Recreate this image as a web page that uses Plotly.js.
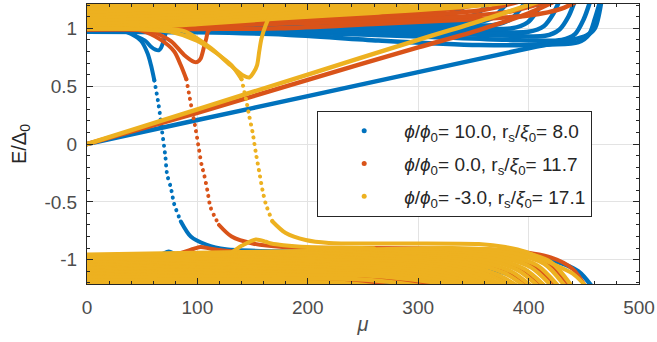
<!DOCTYPE html>
<html><head><meta charset="utf-8">
<script src="https://cdn.plot.ly/plotly-3.0.1.min.js"></script>
<style>
html,body{margin:0;padding:0;background:#fff;}
#chart{width:657px;height:342px;}
.js-line{stroke-linecap:round;stroke-linejoin:round;}
.legend .legendpoints{transform:translate(3px,0px);}
</style></head><body><div id="chart"></div>
<script>
// ---------- tick labels ----------
const xTickVals = [0, 100, 200, 300, 400, 500];
const yTickVals = [-1, -0.5, 0, 0.5, 1];
const yTickText = ['-1', '-0.5', '0', '0.5', '1'];

// ---------- legend labels ----------
const seriesNames = [
  '<i>ϕ</i>/<i>ϕ</i><sub>0</sub>= 10.0, r<sub>s</sub>/<i>ξ</i><sub>0</sub>= 8.0',
  '<i>ϕ</i>/<i>ϕ</i><sub>0</sub>= 0.0, r<sub>s</sub>/<i>ξ</i><sub>0</sub>= 11.7',
  '<i>ϕ</i>/<i>ϕ</i><sub>0</sub>= -3.0, r<sub>s</sub>/<i>ξ</i><sub>0</sub>= 17.1'
];

// ================= BLUE (phi=10, rs=8) =================
const blueUpperMu = [
  [0,100,180,264,355,420,445,455,460,465],
  [0,100,200,300,380,430,442,450,456],
  [0,100,200,300,370,415,428,436,442],
  [0,200,300,360,400,414,422,428],
  [0,200,300,385,399,407,413],
  [0,200,300,370,384,392,398],
  [0,200,300,355,369,377,383],
  [0,200,300,340,354,362,368],
  [0,200,300,325,339,350],
  [0,200,290,310,325],
  [0,200,260,280],
  [0,150,200]
];
const blueUpperE = [
  [0.97,0.965,0.945,0.895,0.855,0.86,0.88,0.95,1.08,1.24],
  [0.98,0.975,0.96,0.93,0.9,0.9,0.95,1.08,1.24],
  [0.995,0.99,0.98,0.96,0.94,0.935,0.99,1.1,1.24],
  [1.01,1.0,0.985,0.97,0.97,1.02,1.12,1.24],
  [1.025,1.02,1.01,1.0,1.05,1.14,1.24],
  [1.04,1.035,1.03,1.03,1.08,1.16,1.24],
  [1.06,1.055,1.05,1.055,1.1,1.18,1.24],
  [1.08,1.075,1.07,1.08,1.13,1.2,1.24],
  [1.1,1.095,1.095,1.11,1.17,1.24],
  [1.12,1.12,1.13,1.18,1.24],
  [1.15,1.15,1.2,1.24],
  [1.18,1.19,1.24]
];
const blueLowerMu = [
  [0,150,300,380,420,445,458],
  [0,200,330,380,400],
  [0,200,330,360]
];
const blueLowerE = [
  [-0.965,-0.955,-0.95,-0.96,-1.0,-1.1,-1.24],
  [-1.05,-1.03,-1.05,-1.12,-1.24],
  [-1.205,-1.2,-1.21,-1.24]
];
const blueLinMu = [0,100,200,300,400,452,460,466];
const blueLinE  = [0,0.207,0.414,0.621,0.828,0.935,1.0,1.24];
const blueDipMu = [0,20,36,45,53,58,62,65,67,70,72,80,110];
const blueDipE  = [0.985,0.985,0.975,0.93,0.89,0.84,0.815,0.81,0.83,0.91,0.97,0.99,0.985];
const blueDescMu = [0,20,31,40,49,55,58,61,65,68,71,72.5,76,79,85,94,108,126,200,300];
const blueDescE  = [1.0,0.995,0.98,0.95,0.89,0.78,0.68,0.55,0.33,0.11,-0.11,-0.26,-0.38,-0.52,-0.67,-0.80,-0.87,-0.91,-0.93,-0.95];
const blueBumpMu = [50,66,74,82,100];
const blueBumpE  = [-0.97,-0.96,-0.93,-0.96,-0.97];

// ================= ORANGE (phi=0, rs=11.7) =================
const orangeUpperMu = [
  [0,100,175,264,355,400,430,445],
  [0,100,200,300,380,420],
  [0,100,200,300,360,395],
  [0,100,200,300,340,370],
  [0,100,200,300,340],
  [0,100,200,260,300],
  [0,100,200,250],
  [0,100,180,210],
  [0,100,150]
];
const orangeUpperE = [
  [0.99,0.995,1.0,1.04,1.08,1.11,1.17,1.24],
  [1.015,1.025,1.045,1.08,1.14,1.24],
  [1.04,1.05,1.075,1.11,1.16,1.24],
  [1.065,1.075,1.1,1.14,1.18,1.24],
  [1.09,1.1,1.13,1.18,1.24],
  [1.115,1.125,1.16,1.2,1.24],
  [1.14,1.155,1.2,1.24],
  [1.165,1.18,1.22,1.24],
  [1.19,1.21,1.24]
];
const orangeLowerMu = [
  [0,200,330,392,420,438],
  [0,200,320,380,408,426],
  [0,200,310,368,396,414],
  [0,200,300,356,384,402],
  [0,200,290,344,372,390],
  [0,200,280,332,360,378],
  [0,200,270,320,348,366],
  [0,200,260,308,336,354],
  [0,200,250,296,322],
  [0,150,240,280]
];
const orangeLowerE = [
  [-0.97,-0.94,-0.915,-0.95,-1.04,-1.24],
  [-0.995,-0.965,-0.94,-0.975,-1.07,-1.24],
  [-1.02,-0.99,-0.97,-1.005,-1.09,-1.24],
  [-1.045,-1.015,-1.0,-1.035,-1.12,-1.24],
  [-1.07,-1.045,-1.03,-1.065,-1.14,-1.24],
  [-1.095,-1.07,-1.06,-1.095,-1.16,-1.24],
  [-1.12,-1.1,-1.09,-1.125,-1.18,-1.24],
  [-1.145,-1.125,-1.12,-1.155,-1.2,-1.24],
  [-1.17,-1.155,-1.15,-1.19,-1.24],
  [-1.195,-1.185,-1.185,-1.24]
];
const orangeLinMu = [0,100,200,300,355,400,425];
const orangeLinE  = [0,0.27,0.555,0.835,0.985,1.13,1.24];
const orangeDipMu = [0,40,58,76,88,97,100,103,106,108,110,115,140];
const orangeDipE  = [0.99,0.99,0.975,0.89,0.77,0.71,0.71,0.74,0.84,0.91,0.98,1.0,1.01];
const orangeDescMu = [0,30,49,67,79,85,90,95,98,101,104,106,109,112,119.6,131,150,177,300,380,420,440,452];
const orangeDescE  = [1.0,0.995,0.98,0.90,0.80,0.68,0.56,0.30,0.15,-0.02,-0.19,-0.26,-0.40,-0.55,-0.70,-0.80,-0.86,-0.89,-0.90,-0.92,-0.98,-1.08,-1.24];
const orangeBumpMu = [70,82,97,103,112,133,160];
const orangeBumpE  = [-0.955,-0.95,-0.905,-0.89,-0.905,-0.93,-0.945];

// ================= YELLOW (phi=-3, rs=17.1) =================
const yellowUpperMu = [
  [0,50,100,175,264,355,390],
  [0,100,175,264,330,360],
  [0,100,175,250,310],
  [0,100,175,230,270],
  [0,100,175,240],
  [0,100,160,210],
  [0,100,180],
  [0,80,150],
  [0,60,120]
];
const yellowUpperE = [
  [1.0,1.01,1.04,1.09,1.14,1.2,1.24],
  [1.025,1.06,1.11,1.165,1.21,1.24],
  [1.05,1.085,1.135,1.19,1.24],
  [1.075,1.11,1.16,1.2,1.24],
  [1.1,1.135,1.185,1.24],
  [1.125,1.16,1.2,1.24],
  [1.15,1.185,1.24],
  [1.175,1.2,1.24],
  [1.2,1.22,1.24]
];
const yellowLowerMu = [
  [0,200,330,390,420,440],
  [0,200,325,384,414,434],
  [0,200,320,378,408,428],
  [0,200,315,372,402,422],
  [0,200,310,366,396,416],
  [0,200,305,360,390,410],
  [0,200,300,354,384,404],
  [0,200,295,348,378,398],
  [0,200,290,342,372,392],
  [0,200,285,336,366,386],
  [0,200,280,330,360,380],
  [0,200,275,324,354,374],
  [0,200,270,318,348,368],
  [0,200,265,312,342,362],
  [0,200,260,306,336,356],
  [0,200,255,300,330,350],
  [0,200,250,294,324,344],
  [0,150,240,282,312],
  [0,150,230,270]
];
const yellowLowerE = [
  [-0.955,-0.925,-0.9,-0.93,-1.02,-1.24],
  [-0.968,-0.938,-0.912,-0.945,-1.035,-1.24],
  [-0.98,-0.95,-0.925,-0.96,-1.05,-1.24],
  [-0.993,-0.963,-0.94,-0.975,-1.065,-1.24],
  [-1.005,-0.975,-0.955,-0.99,-1.08,-1.24],
  [-1.018,-0.988,-0.97,-1.005,-1.09,-1.24],
  [-1.03,-1.0,-0.985,-1.02,-1.1,-1.24],
  [-1.043,-1.015,-1.0,-1.035,-1.115,-1.24],
  [-1.055,-1.03,-1.015,-1.05,-1.13,-1.24],
  [-1.068,-1.043,-1.03,-1.065,-1.14,-1.24],
  [-1.08,-1.055,-1.045,-1.08,-1.15,-1.24],
  [-1.093,-1.07,-1.06,-1.095,-1.16,-1.24],
  [-1.105,-1.085,-1.075,-1.11,-1.17,-1.24],
  [-1.118,-1.098,-1.09,-1.125,-1.18,-1.24],
  [-1.13,-1.11,-1.105,-1.14,-1.19,-1.24],
  [-1.143,-1.125,-1.12,-1.155,-1.2,-1.24],
  [-1.155,-1.14,-1.135,-1.17,-1.21,-1.24],
  [-1.18,-1.17,-1.165,-1.2,-1.24],
  [-1.205,-1.2,-1.2,-1.24]
];
const yellowLinMu = [0,100,200,300,355,409];
const yellowLinE  = [0,0.3,0.6,0.9,1.06,1.23];
const yellowDipMu = [0,70,88,112,130,142,147,151,154,156,158,162,166,175,190];
const yellowDipE  = [0.995,0.99,0.975,0.83,0.68,0.59,0.575,0.62,0.68,0.8,0.91,1.03,1.11,1.18,1.24];
const yellowDescMu = [0,50,76,100,118,131,140,144,147,150,153,156,159,162,168,180,198,219,264,355,379,397,418,440,453];
const yellowDescE  = [1.0,0.99,0.97,0.89,0.78,0.68,0.56,0.39,0.24,0.10,-0.08,-0.24,-0.40,-0.52,-0.67,-0.77,-0.83,-0.855,-0.86,-0.865,-0.89,-0.93,-1.02,-1.12,-1.24];
const yellowBumpMu = [100,127,140,153,162,167,178,200,260];
const yellowBumpE  = [-0.95,-0.955,-0.88,-0.825,-0.845,-0.86,-0.875,-0.89,-0.9];

// ---------- styling ----------
const COLORS = ['#0072BD', '#D95319', '#EDB120'];
const BAND_W = [4.5, 4.5, 4.2];
const FONT = 'Liberation Sans, Arial, Helvetica, sans-serif';
const W = 4;
const traces = [];

function line(mu, e, color, width, dash) {
  traces.push({
    x: mu, y: e, type: 'scatter', mode: 'lines',
    line: {color: color, width: width, shape: 'spline', smoothing: 0.8, dash: dash || 'solid'},
    showlegend: false, hoverinfo: 'skip'
  });
}
function desc(mu, e, color) {
  const a = e.findIndex(v => v < 0.62);
  const b = e.findIndex(v => v < -0.62);
  line(mu.slice(0, a + 1), e.slice(0, a + 1), color, W);
  line(mu.slice(a, b + 1), e.slice(a, b + 1), color, W, '0.1px,6.5px');
  line(mu.slice(b), e.slice(b), color, W);
}
function group(idx, upMu, upE, loMu, loE, linMu, linE, dipMu, dipE, dMu, dE, bMu, bE) {
  const c = COLORS[idx];
  traces.push({x: [null], y: [null], type: 'scatter', mode: 'markers',
    marker: {color: c, size: 5}, name: seriesNames[idx],
    legendgroup: 'g' + idx, showlegend: true, hoverinfo: 'skip'});
  upMu.forEach((m, i) => line(m, upE[i], c, idx === 2 ? 5.2 : BAND_W[idx]));
  loMu.forEach((m, i) => line(m, loE[i], c, BAND_W[idx]));
  line(bMu, bE, c, W);
  line(dipMu, dipE, c, W);
  desc(dMu, dE, c);
  line(linMu, linE, c, W + 0.5);
}
group(0, blueUpperMu, blueUpperE, blueLowerMu, blueLowerE, blueLinMu, blueLinE, blueDipMu, blueDipE, blueDescMu, blueDescE, blueBumpMu, blueBumpE);
group(1, orangeUpperMu, orangeUpperE, orangeLowerMu, orangeLowerE, orangeLinMu, orangeLinE, orangeDipMu, orangeDipE, orangeDescMu, orangeDescE, orangeBumpMu, orangeBumpE);
group(2, yellowUpperMu, yellowUpperE, yellowLowerMu, yellowLowerE, yellowLinMu, yellowLinE, yellowDipMu, yellowDipE, yellowDescMu, yellowDescE, yellowBumpMu, yellowBumpE);

const axisCommon = {
  ticks: 'inside', ticklen: 6, tickwidth: 1, tickcolor: '#262626',
  showline: true, linecolor: '#262626', linewidth: 1, mirror: 'ticks',
  showgrid: true, gridcolor: '#e3e3e3', gridwidth: 1, zeroline: false,
  tickfont: {family: FONT, size: 19, color: '#4d4d4d'}
};
const layout = {
  width: 657, height: 342,
  margin: {l: 87, r: 18, t: 4, b: 58},
  paper_bgcolor: '#ffffff', plot_bgcolor: '#ffffff',
  xaxis: Object.assign({}, axisCommon, {
    range: [0, 500], tickmode: 'array', tickvals: xTickVals,
    ticklabelstandoff: 6,
    minor: {ticks: 'inside', ticklen: 3, dtick: 20, tick0: 0, tickcolor: '#262626', showgrid: false},
    title: {text: '<i>μ</i>', font: {family: FONT, size: 20, color: '#4d4d4d'}, standoff: 0}
  }),
  yaxis: Object.assign({}, axisCommon, {
    range: [-1.21, 1.21], tickmode: 'array', tickvals: yTickVals, ticktext: yTickText,
    ticklabelstandoff: 5,
    minor: {ticks: 'inside', ticklen: 3, dtick: 0.1, tick0: 0, tickcolor: '#262626', showgrid: false},
    title: {text: 'E/Δ<sub>0</sub>', font: {family: FONT, size: 20, color: '#262626'}, standoff: 12}
  }),
  legend: {
    x: 0.417, y: 0.618, xanchor: 'left', yanchor: 'top',
    bgcolor: '#ffffff', bordercolor: '#262626', borderwidth: 1,
    font: {family: FONT, size: 19, color: '#262626'},
    traceorder: 'grouped', tracegroupgap: 5, itemwidth: 76
  },
  showlegend: true
};
Plotly.newPlot('chart', traces, layout, {staticPlot: true, displayModeBar: false});
</script></body></html>
